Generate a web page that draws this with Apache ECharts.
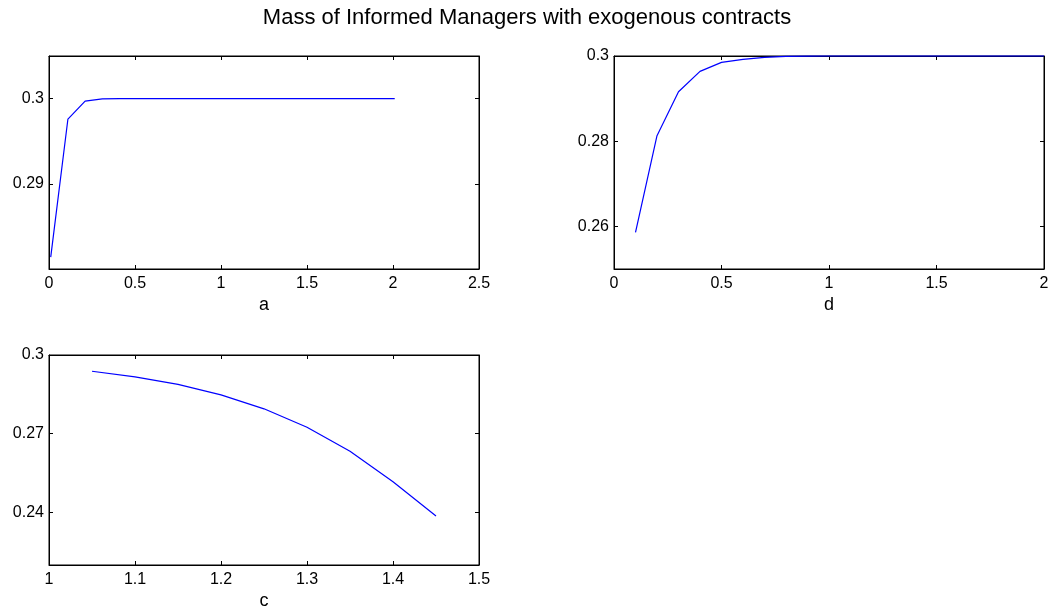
<!DOCTYPE html>
<html>
<head>
<meta charset="utf-8">
<script src="https://cdn.jsdelivr.net/npm/echarts@6/dist/echarts.min.js"></script>
<style>html,body{margin:0;padding:0;background:#fff}#c{width:1054px;height:611px}</style>
</head>
<body>
<div id="c"></div>
<script>
var titleText = 'Mass of Informed Managers with exogenous contracts';
// panel a
var aX = [0.01,0.11,0.21,0.31,0.41,0.51,0.61,0.71,0.81,0.91,1.01,1.11,1.21,1.31,1.41,1.51,1.61,1.71,1.81,1.91,2.01];
var aY = [0.2814,0.2976,0.2997,0.29997,0.3,0.3,0.3,0.3,0.3,0.3,0.3,0.3,0.3,0.3,0.3,0.3,0.3,0.3,0.3,0.3,0.3];
var aXTicks = [0,0.5,1,1.5,2,2.5];
var aYTicks = [0.29,0.3];
// panel d
var dX = [0.1,0.2,0.3,0.4,0.5,0.6,0.7,0.8,0.9,1.0,1.1,1.2,1.3,1.4,1.5,1.6,1.7,1.8,1.9,2.0];
var dY = [0.2586,0.2813,0.2916,0.2964,0.2985,0.2992,0.2997,0.2999,0.29995,0.3,0.3,0.3,0.3,0.3,0.3,0.3,0.3,0.3,0.3,0.3];
var dXTicks = [0,0.5,1,1.5,2];
var dYTicks = [0.26,0.28,0.3];
// panel c
var cX = [1.05,1.1,1.15,1.2,1.25,1.3,1.35,1.4,1.45];
var cY = [0.2938,0.2917,0.2888,0.2848,0.2795,0.2725,0.2633,0.2517,0.2387];
var cXTicks = [1,1.1,1.2,1.3,1.4,1.5];
var cYTicks = [0.24,0.27,0.3];

var FONT = 'Liberation Sans, Arial, Helvetica, sans-serif';
function zip(xs, ys){ return xs.map(function(x,i){ return [x, ys[i]]; }); }

var panels = [
  {grid:{left:49, top:56, width:430, height:213}, xmin:0, xmax:2.5, ymin:0.28, ymax:0.305, xt:aXTicks, yt:aYTicks, name:'a', data:zip(aX,aY)},
  {grid:{left:614, top:56, width:430, height:213}, xmin:0, xmax:2, ymin:0.25, ymax:0.3, xt:dXTicks, yt:dYTicks, name:'d', data:zip(dX,dY)},
  {grid:{left:49, top:355, width:430, height:214}, xmin:1, xmax:1.5, ymin:0.22, ymax:0.3, xt:cXTicks, yt:cYTicks, name:'c', data:zip(cX,cY)}
];

var grids = [], xAxes = [], yAxes = [], series = [];
var lineStyle = {color:'#000', width:1};
var tickStyle = {color:'#000', width:1};
panels.forEach(function(p, i){
  grids.push(Object.assign({show:true, borderColor:'#000', borderWidth:1, backgroundColor:'#fff', containLabel:false}, p.grid));
  var xi = xAxes.length, yi = yAxes.length;
  xAxes.push({type:'value', gridIndex:i, min:p.xmin, max:p.xmax, position:'bottom',
    name:p.name, nameLocation:'middle', nameGap:27, nameTextStyle:{fontFamily:FONT, fontSize:18, color:'#000'},
    axisLine:{show:true, onZero:false, lineStyle:lineStyle},
    axisTick:{show:true, inside:true, length:4, customValues:p.xt, lineStyle:tickStyle},
    axisLabel:{show:true, customValues:p.xt, margin:7, fontFamily:FONT, fontSize:16, color:'#000'},
    splitLine:{show:false}});
  xAxes.push({type:'value', gridIndex:i, min:p.xmin, max:p.xmax, position:'top',
    axisLine:{show:true, onZero:false, lineStyle:lineStyle},
    axisTick:{show:true, inside:true, length:4, customValues:p.xt, lineStyle:tickStyle},
    axisLabel:{show:false}, splitLine:{show:false}});
  yAxes.push({type:'value', gridIndex:i, min:p.ymin, max:p.ymax, position:'left',
    axisLine:{show:true, onZero:false, lineStyle:lineStyle},
    axisTick:{show:true, inside:true, length:4, customValues:p.yt, lineStyle:tickStyle},
    axisLabel:{show:true, customValues:p.yt, margin:5, fontFamily:FONT, fontSize:16, color:'#000'},
    splitLine:{show:false}});
  yAxes.push({type:'value', gridIndex:i, min:p.ymin, max:p.ymax, position:'right',
    axisLine:{show:true, onZero:false, lineStyle:lineStyle},
    axisTick:{show:true, inside:true, length:4, customValues:p.yt, lineStyle:tickStyle},
    axisLabel:{show:false}, splitLine:{show:false}});
  series.push({type:'line', xAxisIndex:xi, yAxisIndex:yi, data:p.data, showSymbol:false, symbol:'none',
    lineStyle:{color:'#0000ff', width:1.2}, animation:false, clip:false});
});

var chart = echarts.init(document.getElementById('c'), null, {renderer:'canvas'});
chart.setOption({
  animation:false,
  backgroundColor:'#fff',
  title:{text:titleText, left:'center', top:2, textStyle:{fontFamily:FONT, fontSize:22, fontWeight:'normal', color:'#000'}},
  grid:grids, xAxis:xAxes, yAxis:yAxes, series:series
});
</script>
</body>
</html>
